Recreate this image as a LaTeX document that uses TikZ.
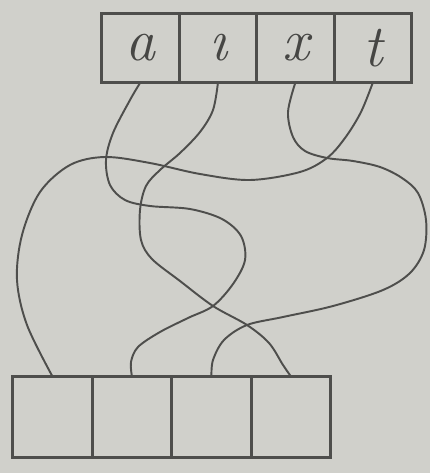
\documentclass[tikz,border=0pt]{standalone}
\usepackage{tikz}
\usetikzlibrary{positioning}
\definecolor{paper}{RGB}{208,208,203}
\definecolor{pencil}{RGB}{78,78,76}

\tikzset{
  cell/.style={draw=pencil, line width=1.5pt, inner sep=0pt, outer sep=0pt,
    minimum width=1.55cm, minimum height=1.37cm, font=\fontsize{34}{34}\selectfont\itshape, text=pencil!90!black},
  slot/.style={cell, minimum width=1.59cm, minimum height=1.62cm},
  strand/.style={draw=pencil, line width=1.1pt, line join=round, line cap=round}
}

\begin{document}
\begin{tikzpicture}[x=0.02cm, y=-0.02cm]
    \fill[paper] (0,0) rectangle (430,473);
    \useasboundingbox (0,0) rectangle (430,473);
    % word on top
    \node[cell] (ta) at (140.5,48) {a};
    \node[cell, right=0pt of ta] (ti) {\i};
    \node[cell, right=0pt of ti] (tx) {x};
    \node[cell, right=0pt of tx] (tt) {t};
    % empty boxes below
    \node[slot] (b1) at (52.5,417) {};
    \node[slot, right=0pt of b1] (b2) {};
    \node[slot, right=0pt of b2] (b3) {};
    \node[slot, right=0pt of b3] (b4) {};
    % the four strands
    \draw[strand] plot[smooth, tension=0.55] coordinates {(tt.south) (361,112) (345,138) (327,158) (300,172) (250,180) (200,174) (150,163) (105,157) (70,165) (40,192) (22,235) (17,280) (27,325) (b1.north)};
    \draw[strand] plot[smooth, tension=0.55] coordinates {(ta.south) (130,100) (113,133) (106,160) (110,185) (125,200) (150,206) (190,209) (222,219) (241,236) (245,260) (233,284) (213,306) (188,318) (160,332) (138,347) (131,362) (b2.north)};
    \draw[strand] plot[smooth, tension=0.55] coordinates {(ti.south) (213,110) (200,132) (180,153) (160,170) (146,186) (140,210) (141,240) (152,259) (180,281) (213,306) (247,325) (269,343) (283,365) (b4.north)};
    \draw[strand] plot[smooth, tension=0.55] coordinates {(tx.south) (288,112) (293,137) (305,151) (327,158) (353,161) (380,167) (402,178) (418,193) (426,220) (424,250) (410,273) (383,290) (333,306) (283,317) (247,325) (224,340) (213,360) (b3.north)};
\end{tikzpicture}
\end{document}
